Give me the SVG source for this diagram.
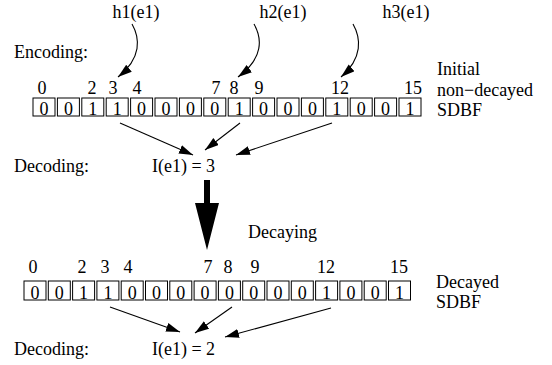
<svg xmlns="http://www.w3.org/2000/svg" width="552" height="365" viewBox="0 0 552 365" font-family="'Liberation Serif', 'DejaVu Serif', 'Noto Serif', serif">
<defs>
<marker id="ah" markerUnits="userSpaceOnUse" markerWidth="16" markerHeight="10" refX="14" refY="4.5" orient="auto">
<path d="M0,0 L14,4.5 L0,9 z" fill="#000"/>
</marker>
</defs>
<style>
text{font-family:'Liberation Serif','DejaVu Serif','Noto Serif',serif;font-size:18px;fill:#000}
.c{text-anchor:middle}
.box rect{fill:#fff;stroke:#000;stroke-width:1}
.box text{text-anchor:middle}
.ln{fill:none;stroke:#000;stroke-width:1.1}
</style>
<rect width="552" height="365" fill="#fff"/>

<g id="hash-labels">
<text class="c" x="136" y="18">h1(e1)</text>
<text class="c" x="283" y="18">h2(e1)</text>
<text class="c" x="406" y="18">h3(e1)</text>
</g>

<g id="encoding-label"><text x="14" y="58">Encoding:</text></g>

<g id="top-index">
<text class="c" x="42" y="94">0</text>
<text class="c" x="92" y="94">2</text>
<text class="c" x="113" y="94">3</text>
<text class="c" x="137" y="94">4</text>
<text class="c" x="216" y="94">7</text>
<text class="c" x="234" y="94">8</text>
<text class="c" x="259" y="94">9</text>
<text class="c" x="340" y="94">12</text>
<text class="c" x="413" y="94">15</text>
</g>

<g id="top-sdbf" class="box">
<rect x="33" y="98" width="22" height="18"/><text x="44" y="115">0</text>
<rect x="57.4" y="98" width="22" height="18"/><text x="68.4" y="115">0</text>
<rect x="81.8" y="98" width="22" height="18"/><text x="92.8" y="115">1</text>
<rect x="106.2" y="98" width="22" height="18"/><text x="117.2" y="115">1</text>
<rect x="130.6" y="98" width="22" height="18"/><text x="141.6" y="115">0</text>
<rect x="155" y="98" width="22" height="18"/><text x="166" y="115">0</text>
<rect x="179.4" y="98" width="22" height="18"/><text x="190.4" y="115">0</text>
<rect x="203.8" y="98" width="22" height="18"/><text x="214.8" y="115">0</text>
<rect x="228.2" y="98" width="22" height="18"/><text x="239.2" y="115">1</text>
<rect x="252.6" y="98" width="22" height="18"/><text x="263.6" y="115">0</text>
<rect x="277" y="98" width="22" height="18"/><text x="288" y="115">0</text>
<rect x="301.4" y="98" width="22" height="18"/><text x="312.4" y="115">0</text>
<rect x="325.8" y="98" width="22" height="18"/><text x="336.8" y="115">1</text>
<rect x="350.2" y="98" width="22" height="18"/><text x="361.2" y="115">0</text>
<rect x="374.6" y="98" width="22" height="18"/><text x="385.6" y="115">0</text>
<rect x="399" y="98" width="22" height="18"/><text x="410" y="115">1</text>
</g>

<g id="top-caption">
<text x="437" y="75">Initial</text>
<text x="437" y="95.5">non−decayed</text>
<text x="437" y="116">SDBF</text>
</g>

<g id="decoding1">
<text x="14" y="172">Decoding:</text>
<text x="152" y="172">I(e1) = 3</text>
</g>

<g id="decaying-label"><text x="248" y="238">Decaying</text></g>

<g id="bottom-index">
<text class="c" x="33" y="273">0</text>
<text class="c" x="82" y="273">2</text>
<text class="c" x="105" y="273">3</text>
<text class="c" x="128" y="273">4</text>
<text class="c" x="208" y="273">7</text>
<text class="c" x="228" y="273">8</text>
<text class="c" x="255" y="273">9</text>
<text class="c" x="326" y="273">12</text>
<text class="c" x="399" y="273">15</text>
</g>

<g id="bottom-sdbf" class="box">
<rect x="24" y="281" width="22" height="19"/><text x="35" y="299">0</text>
<rect x="48.3" y="281" width="22" height="19"/><text x="59.3" y="299">0</text>
<rect x="72.6" y="281" width="22" height="19"/><text x="83.6" y="299">1</text>
<rect x="96.9" y="281" width="22" height="19"/><text x="107.9" y="299">1</text>
<rect x="121.2" y="281" width="22" height="19"/><text x="132.2" y="299">0</text>
<rect x="145.5" y="281" width="22" height="19"/><text x="156.5" y="299">0</text>
<rect x="169.8" y="281" width="22" height="19"/><text x="180.8" y="299">0</text>
<rect x="194.1" y="281" width="22" height="19"/><text x="205.1" y="299">0</text>
<rect x="218.4" y="281" width="22" height="19"/><text x="229.4" y="299">0</text>
<rect x="242.7" y="281" width="22" height="19"/><text x="253.7" y="299">0</text>
<rect x="267" y="281" width="22" height="19"/><text x="278" y="299">0</text>
<rect x="291.3" y="281" width="22" height="19"/><text x="302.3" y="299">0</text>
<rect x="315.6" y="281" width="22" height="19"/><text x="326.6" y="299">1</text>
<rect x="339.9" y="281" width="22" height="19"/><text x="350.9" y="299">0</text>
<rect x="364.2" y="281" width="22" height="19"/><text x="375.2" y="299">0</text>
<rect x="388.5" y="281" width="22" height="19"/><text x="399.5" y="299">1</text>
</g>

<g id="bottom-caption">
<text x="436" y="288">Decayed</text>
<text x="436" y="308">SDBF</text>
</g>

<g id="decoding2">
<text x="14" y="355">Decoding:</text>
<text x="152" y="355">I(e1) = 2</text>
</g>

<g id="connectors">
<path class="ln" d="M132,24 C140,38 142,58 118,77" marker-end="url(#ah)"/>
<path class="ln" d="M254,24 C262,38 264,58 238,77" marker-end="url(#ah)"/>
<path class="ln" d="M353,24 C361,38 363,58 341,77" marker-end="url(#ah)"/>
<line class="ln" x1="120" y1="123" x2="193" y2="155" marker-end="url(#ah)"/>
<line class="ln" x1="240" y1="123" x2="205" y2="150" marker-end="url(#ah)"/>
<line class="ln" x1="332" y1="123" x2="236" y2="155" marker-end="url(#ah)"/>
<line class="ln" x1="110" y1="307" x2="180" y2="332" marker-end="url(#ah)"/>
<line class="ln" x1="232" y1="307" x2="195" y2="333" marker-end="url(#ah)"/>
<line class="ln" x1="331" y1="308" x2="225" y2="337" marker-end="url(#ah)"/>
<path d="M204,180 H210 V203 H219 L207,250 L195,203 H204 Z" fill="#000"/>
</g>
</svg>
